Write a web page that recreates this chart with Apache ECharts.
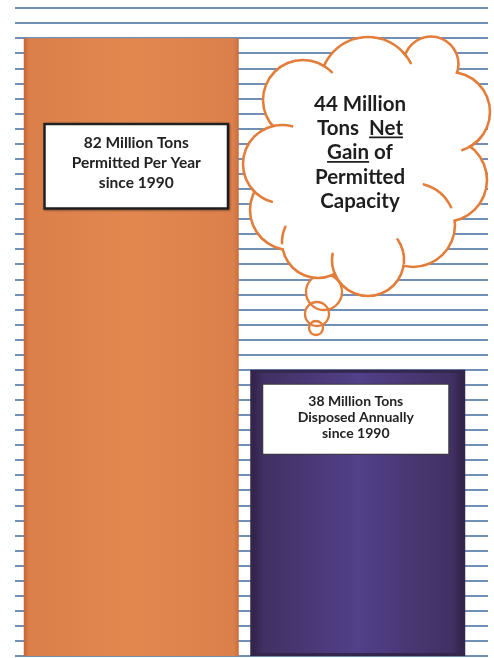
<!DOCTYPE html>
<html>
<head>
<meta charset="utf-8">
<script src="https://cdn.jsdelivr.net/npm/echarts@6/dist/echarts.min.js"></script>
<style>
  html, body { margin: 0; padding: 0; background: #ffffff; }
  #chart { width: 494px; height: 658px; }
</style>
</head>
<body>
<div id="chart"></div>
<script>
// ---- data ----
const categories = ['Permitted', 'Disposed'];
const tonsMillions = [82, 38];
const labelTails = [
  ['Permitted Per Year', 'since 1990'],
  ['Disposed Annually', 'since 1990']
];
const yMax = 86;
const yStep = 2;

// net gain shown in the thought cloud
const netGain = tonsMillions[0] - tonsMillions[1];
const cloudLines = [netGain + ' Million', 'Tons  Net', 'Gain of', 'Permitted', 'Capacity'];
const underlined = { 1: 'Net', 2: 'Gain' };

// ---- styling ----
const FONT = 'Lato, "Open Sans", sans-serif';
const RULE = '#436b9c';
const CLOUD_LINE = '#e27d3a';
const CLOUD_W = 2.6;

const chart = echarts.init(document.getElementById('chart'), null, { renderer: 'canvas' });

const orangeFill = new echarts.graphic.LinearGradient(0, 0, 1, 0, [
  { offset: 0, color: '#c0673a' },
  { offset: 0.025, color: '#db7f4a' },
  { offset: 0.5, color: '#e2884f' },
  { offset: 0.975, color: '#dc804b' },
  { offset: 1, color: '#c86e40' }
]);
const purpleFill = new echarts.graphic.LinearGradient(0, 0, 1, 0, [
  { offset: 0, color: '#2e2144' },
  { offset: 0.06, color: '#413063' },
  { offset: 0.5, color: '#524089' },
  { offset: 0.94, color: '#413063' },
  { offset: 1, color: '#2d2043' }
]);

const labelStyles = [
  {
    distance: 87, offset: [5, 0], borderColor: '#222222', borderWidth: 2.5,
    padding: [8, 8, 14, 8], width: 165, lineHeight: 20, fontSize: 15.5,
    shadowColor: 'rgba(0,0,0,0.35)', shadowBlur: 2, shadowOffsetX: 1, shadowOffsetY: 1
  },
  {
    distance: 15, offset: [-2, 0], borderColor: '#3a3a3a', borderWidth: 1,
    padding: [9, 8, 12, 8], width: 169, lineHeight: 16, fontSize: 14
  }
];
const barFills = [orangeFill, purpleFill];
const barBorders = [
  { borderWidth: 0 },
  { borderColor: '#35264e', borderWidth: 3 }
];

const barData = tonsMillions.map((v, i) => ({
  value: v,
  itemStyle: Object.assign({ color: barFills[i] }, barBorders[i]),
  label: Object.assign({
    show: true,
    position: 'insideTop',
    backgroundColor: '#ffffff',
    color: '#222222',
    fontFamily: FONT,
    fontWeight: 'bold',
    align: 'center',
    formatter: () => [v + ' Million Tons'].concat(labelTails[i]).join('\n')
  }, labelStyles[i])
}));

// ---- thought cloud (annotation) ----
// bumps: [cx, cy, r]
const bumps = [
  [303, 100, 40], [368, 85, 48], [431, 64, 27.5], [450, 112, 40], [445, 180, 42],
  [413, 225, 42], [368, 260, 36], [318, 242, 36], [290, 210, 40], [282, 164, 39]
];
// extra interior fill so the union has no holes
const cloudCore = [
  [365, 170, 80], [400, 100, 30], [330, 110, 30], [300, 170, 30], [410, 180, 35]
];
// inner hooks: [bump index, start deg, end deg]
const hooks = [
  [0, -60, -44], [1, -42, -27], [3, 40, 72], [5, -75, -25], [6, -35, 5],
  [6, 155, 190], [7, 178, 205], [9, 105, 140], [9, 258, 285]
];
const tailBubbles = [[324, 292, 18], [317, 314, 12], [316, 328, 7]];

const g = [];
const Z = 50;
tailBubbles.forEach(b => g.push({
  type: 'circle', z: Z, shape: { cx: b[0], cy: b[1], r: b[2] }, style: { fill: '#ffffff' }
}));
tailBubbles.forEach(b => g.push({
  type: 'circle', z: Z + 1, shape: { cx: b[0], cy: b[1], r: b[2] },
  style: { fill: null, stroke: CLOUD_LINE, lineWidth: 2.3 }
}));
bumps.forEach(b => g.push({
  type: 'circle', z: Z + 2, shape: { cx: b[0], cy: b[1], r: b[2] + CLOUD_W / 2 },
  style: { fill: CLOUD_LINE }
}));
bumps.forEach(b => g.push({
  type: 'circle', z: Z + 3, shape: { cx: b[0], cy: b[1], r: b[2] - CLOUD_W / 2 },
  style: { fill: '#ffffff' }
}));
cloudCore.forEach(c => g.push({
  type: 'circle', z: Z + 3, shape: { cx: c[0], cy: c[1], r: c[2] }, style: { fill: '#ffffff' }
}));
hooks.forEach(h => {
  const b = bumps[h[0]];
  g.push({
    type: 'arc', z: Z + 4,
    shape: { cx: b[0], cy: b[1], r: b[2], startAngle: h[1] * Math.PI / 180, endAngle: h[2] * Math.PI / 180, clockwise: true },
    style: { stroke: CLOUD_LINE, lineWidth: CLOUD_W, fill: null, lineCap: 'round' }
  });
});

// cloud text with underlined words
const cloudFont = 'bold 20.5px ' + FONT;
const measure = document.createElement('canvas').getContext('2d');
measure.font = cloudFont;
const textCx = 360, textY0 = 104, textStep = 24.4;
cloudLines.forEach((line, i) => {
  const y = textY0 + i * textStep;
  g.push({
    type: 'text', z: Z + 5, x: textCx, y: y,
    style: { text: line, font: cloudFont, fill: '#1e1e1e', align: 'center', verticalAlign: 'middle' }
  });
  const word = underlined[i];
  if (word) {
    const full = measure.measureText(line).width;
    const idx = line.indexOf(word);
    const x1 = textCx - full / 2 + measure.measureText(line.slice(0, idx)).width;
    const x2 = x1 + measure.measureText(word).width;
    const uy = y + 9;
    g.push({
      type: 'line', z: Z + 5,
      shape: { x1: x1, y1: uy, x2: x2, y2: uy },
      style: { stroke: '#1e1e1e', lineWidth: 1.8 }
    });
  }
});

const option = {
  animation: false,
  backgroundColor: '#ffffff',
  grid: [
    { left: 15, right: 6, top: 8, bottom: 2 },
    { left: 18, right: 23, top: 8, bottom: 2 }
  ],
  xAxis: [
    { gridIndex: 0, type: 'value', min: 0, max: 1, show: false },
    { gridIndex: 1, type: 'category', data: categories, show: false }
  ],
  yAxis: [
    {
      gridIndex: 0, type: 'value', min: 0, max: yMax, interval: yStep,
      axisLine: { show: false }, axisTick: { show: false }, axisLabel: { show: false },
      splitLine: { show: true, lineStyle: { color: RULE, width: 1.7 } }
    },
    {
      gridIndex: 1, type: 'value', min: 0, max: yMax, interval: yStep,
      axisLine: { show: false }, axisTick: { show: false }, axisLabel: { show: false },
      splitLine: { show: false }
    }
  ],
  series: [{
    type: 'bar',
    xAxisIndex: 1,
    yAxisIndex: 1,
    barWidth: 215,
    data: barData,
    z: 3
  }],
  graphic: { elements: g }
};

chart.setOption(option);
</script>
</body>
</html>
